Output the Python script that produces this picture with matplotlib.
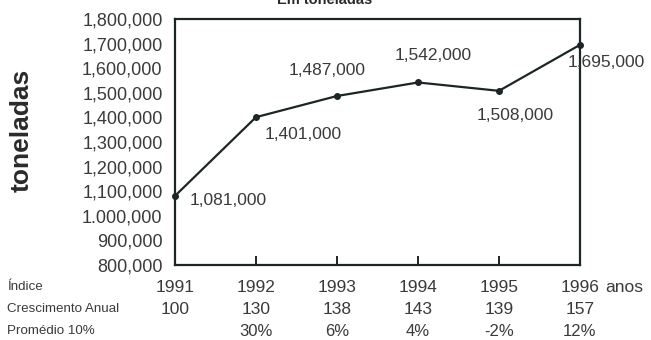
import matplotlib
matplotlib.use('Agg')
import matplotlib.pyplot as plt
from matplotlib import font_manager
from matplotlib.transforms import blended_transform_factory

plt.rcParams['font.family'] = ['Liberation Sans', 'DejaVu Sans']

# producao anual em toneladas
anos = [1991, 1992, 1993, 1994, 1995, 1996]
toneladas = [1081000, 1401000, 1487000, 1542000, 1508000, 1695000]
rotulos = ['1,081,000', '1,401,000', '1,487,000', '1,542,000', '1,508,000', '1,695,000']
indice = ['100', '130', '138', '143', '139', '157']
crescimento = ['', '30%', '6%', '4%', '-2%', '12%']

y_ticks = [800000, 900000, 1000000, 1100000, 1200000, 1300000,
           1400000, 1500000, 1600000, 1700000, 1800000]
y_ticklabels = ['800,000', '900,000', '1.000,000', '1,100,000', '1,200,000',
                '1,300,000', '1,400,000', '1,500,000', '1,600,000',
                '1,700,000', '1,800,000']

# deslocamento de cada rotulo em relacao ao ponto (pixels) e alinhamento
desloc = [(15, -5, 'left'), (9, -17, 'left'), (-10, 25, 'center'),
          (15, 27, 'center'), (16, -25, 'center'), (-12, -18, 'left')]

COR_TEXTO = '#3a3a3a'
COR_LINHA = '#1c2626'

# fonte estreita para os titulos das linhas da tabela, se existir
nomes = {f.name for f in font_manager.fontManager.ttflist}
if 'Liberation Sans Narrow' in nomes:
    fonte_tabela, tam_tabela = ['Liberation Sans Narrow'], 11.5
else:
    fonte_tabela, tam_tabela = ['Liberation Sans'], 9.6

W, H = 651, 340
fig = plt.figure(figsize=(W / 100, H / 100), dpi=100)
ax = fig.add_axes([175 / W, 1 - 265 / H, 405 / W, 246 / H])

ax.plot(anos, toneladas, color=COR_LINHA, linewidth=1.6, marker='o',
        markersize=4, clip_on=False, zorder=3)

for x, y, txt, (dx, dy, ha) in zip(anos, toneladas, rotulos, desloc):
    ax.annotate(txt, (x, y), xytext=(dx, dy), textcoords='offset pixels',
                ha=ha, va='center', fontsize=12.5, color=COR_TEXTO)

ax.set_xlim(1991, 1996)
ax.set_ylim(800000, 1800000)
ax.set_yticks(y_ticks)
ax.set_yticklabels(y_ticklabels)
ax.set_xticks(anos)
ax.set_xticklabels([])
ax.tick_params(axis='y', length=0, pad=9, labelsize=13, labelcolor=COR_TEXTO)
ax.tick_params(axis='x', direction='in', length=6.5, width=1.4, color=COR_LINHA)

for s in ax.spines.values():
    s.set_color(COR_LINHA)
    s.set_linewidth(1.6)

fig.text(22 / W, 1 - 130 / H, 'toneladas', rotation=90, ha='center',
         va='center', fontsize=19, fontweight='bold', color='#2a2a2a')

# tabela abaixo do eixo
tr = blended_transform_factory(ax.transData, fig.transFigure)
linhas_y = [287, 309, 331]
for x, i, c in zip(anos, indice, crescimento):
    ax.text(x, 1 - linhas_y[0] / H, str(x), transform=tr, ha='center',
            va='center', fontsize=12.5, color=COR_TEXTO)
    ax.text(x, 1 - linhas_y[1] / H, i, transform=tr, ha='center',
            va='center', fontsize=12.5, color=COR_TEXTO)
    ax.text(x, 1 - linhas_y[2] / H, c, transform=tr, ha='center',
            va='center', fontsize=12, color=COR_TEXTO)

fig.text(605 / W, 1 - linhas_y[0] / H, 'anos', ha='left', va='center',
         fontsize=12.5, color=COR_TEXTO)

for txt, yy in zip(['Índice', 'Crescimento Anual', 'Promédio 10%'], linhas_y):
    fig.text(7 / W, 1 - yy / H, txt, ha='left', va='center',
             fontsize=tam_tabela, family=fonte_tabela, color=COR_TEXTO)

fig.text(325 / W, 1 - 4 / H, 'Em toneladas', ha='center', va='baseline',
         fontsize=10.5, fontweight='bold', color='#2a2a2a')

fig.savefig('out.png', dpi=100, facecolor='white')
